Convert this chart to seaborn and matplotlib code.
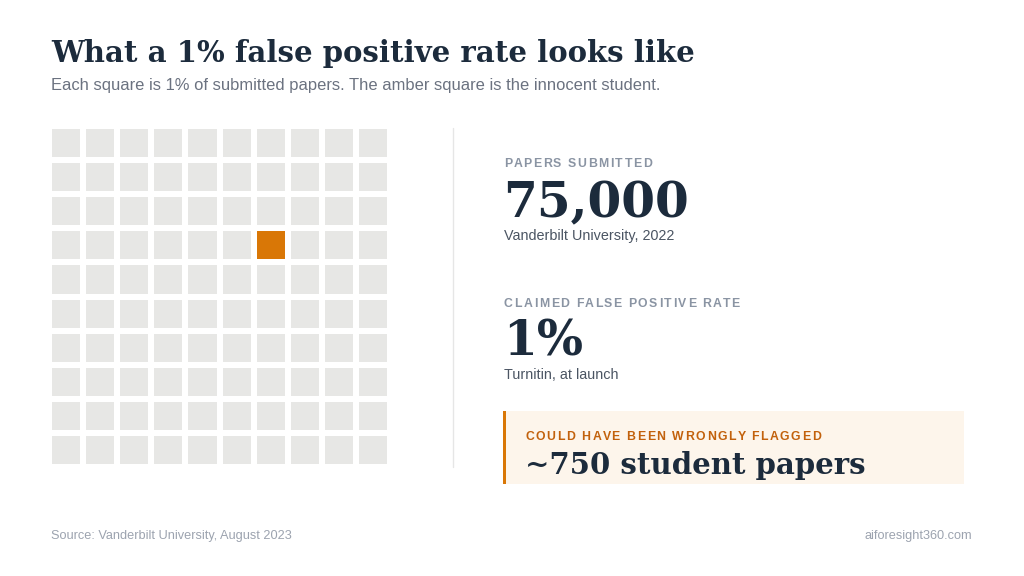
import numpy as np
import pandas as pd
import matplotlib
matplotlib.use('Agg')
import matplotlib.pyplot as plt
from matplotlib.colors import ListedColormap
from matplotlib.patches import Rectangle
import seaborn as sns

# ---- data ----
n_rows = 10
n_cols = 10
flagged_row = 3
flagged_col = 6

papers_submitted = "75,000"
papers_source = "Vanderbilt University, 2022"
false_positive_rate = "1%"
rate_source = "Turnitin, at launch"
flagged_estimate = "~750 student papers"

title = "What a 1% false positive rate looks like"
subtitle = "Each square is 1% of submitted papers. The amber square is the innocent student."
source_note = "Source: Vanderbilt University, August 2023"
site = "aiforesight360.com"

# colours
NAVY = '#1c2b3c'
GREY_TXT = '#6b7280'
LABEL = '#8a94a3'
SQUARE = '#e7e7e5'
AMBER = '#d97706'
AMBER_TXT = '#c2610c'
CALLOUT_BG = '#fdf5eb'

grid = np.zeros((n_rows, n_cols))
grid[flagged_row, flagged_col] = 1
grid_df = pd.DataFrame(grid)

sns.set_style('white')
plt.rcParams['font.family'] = ['Liberation Sans', 'DejaVu Sans']

W, H = 1024, 576
fig = plt.figure(figsize=(W / 100, H / 100), dpi=100)
fig.patch.set_facecolor('white')


def fx(x):
    return x / W


def fy(y):
    return 1 - y / H


# ---- waffle grid ----
ax = fig.add_axes([fx(49), fy(467), fx(341), (467 - 126) / H])
sns.heatmap(grid_df, ax=ax, cmap=ListedColormap([SQUARE, AMBER]), cbar=False,
            linewidths=3, linecolor='white', square=True,
            xticklabels=False, yticklabels=False, vmin=0, vmax=1)
ax.set_xlabel('')
ax.set_ylabel('')
for s in ax.spines.values():
    s.set_visible(False)

renderer = fig.canvas.get_renderer()


def spaced_text(x, y, s, spacing=1.6, **kw):
    # draw text with letter spacing (pixels)
    ref = fig.text(0, 0, 'I', **kw)
    w_ref = ref.get_window_extent(renderer).width
    ref.remove()
    for i, ch in enumerate(s):
        if i == 0:
            off = 0
        else:
            t = fig.text(0, 0, s[:i] + 'I', **kw)
            off = t.get_window_extent(renderer).width - w_ref
            t.remove()
        fig.text(fx(x + off + i * spacing), fy(y), ch, va='baseline', **kw)


# ---- titles ----
fig.text(fx(51), fy(62), title, family='DejaVu Serif', fontweight='bold',
         fontsize=21, color=NAVY, va='baseline')
fig.text(fx(51), fy(90), subtitle, fontsize=11.9, color=GREY_TXT, va='baseline')

# divider
fig.add_artist(plt.Line2D([fx(453), fx(453)], [fy(128), fy(467)],
                          color='#e6e6e6', lw=1))

# ---- stats ----
spaced_text(504, 167, "PAPERS SUBMITTED", spacing=1.55, fontsize=8.8,
            fontweight='bold', color=LABEL)
fig.text(fx(503), fy(217), papers_submitted, family='DejaVu Serif', fontweight='bold',
         fontsize=35, color=NAVY, va='baseline')
fig.text(fx(504), fy(240), papers_source, fontsize=10.4, color='#4b5563', va='baseline')

spaced_text(504, 307, "CLAIMED FALSE POSITIVE RATE", spacing=1.55, fontsize=8.8,
            fontweight='bold', color=LABEL)
fig.text(fx(503), fy(356), false_positive_rate, family='DejaVu Serif', fontweight='bold',
         fontsize=35, color=NAVY, va='baseline')
fig.text(fx(504), fy(379), rate_source, fontsize=10.4, color='#4b5563', va='baseline')

# ---- callout ----
fig.add_artist(Rectangle((fx(503), fy(484)), fx(964 - 503), (484 - 411) / H,
                         transform=fig.transFigure, facecolor=CALLOUT_BG, edgecolor='none'))
fig.add_artist(Rectangle((fx(503), fy(484)), fx(3), (484 - 411) / H,
                         transform=fig.transFigure, facecolor=AMBER, edgecolor='none'))
spaced_text(525, 440, "COULD HAVE BEEN WRONGLY FLAGGED", spacing=1.6, fontsize=8.8,
            fontweight='bold', color=AMBER_TXT)
fig.text(fx(525), fy(474), flagged_estimate, family='DejaVu Serif', fontweight='bold',
         fontsize=21, color=NAVY, va='baseline')

# ---- footer ----
fig.text(fx(51), fy(539), source_note, fontsize=9.2, color='#9ca3af', va='baseline')
fig.text(fx(972), fy(539), site, fontsize=9.2, color='#9ca3af', va='baseline', ha='right')

fig.savefig('out.png', dpi=100, facecolor='white')
